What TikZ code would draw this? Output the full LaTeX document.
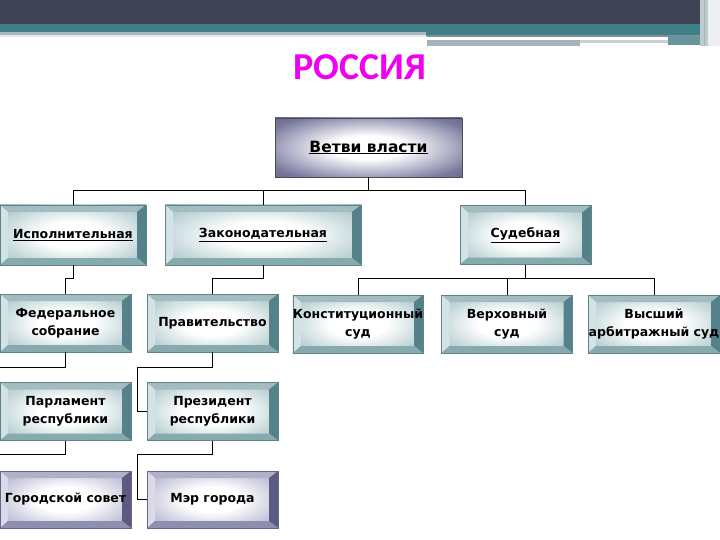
\documentclass[tikz,border=0pt]{standalone}
\usepackage{fontspec}
\setmainfont{DejaVu Sans}
\newfontfamily\titlefont{Carlito}
\usetikzlibrary{calc}
\definecolor{barDark}{HTML}{3F4455}
\definecolor{barTeal}{HTML}{3F8088}
\definecolor{barLight}{HTML}{A7B9BF}
\definecolor{barGray}{HTML}{A3B4B8}
\definecolor{ttlMag}{HTML}{F000F0}
% teal bevel
\definecolor{tBord}{HTML}{5F8589}
\definecolor{tTop}{HTML}{A3BCBF}
\definecolor{tLeft}{HTML}{D3E3E5}
\definecolor{tRight}{HTML}{55828A}
\definecolor{tBot}{HTML}{86AAAE}
\definecolor{tFace}{HTML}{8FB4B8}
% purple bevel
\definecolor{pBord}{HTML}{66668A}
\definecolor{pTop}{HTML}{B0B0C8}
\definecolor{pLeft}{HTML}{DADAE8}
\definecolor{pRight}{HTML}{5B5B82}
\definecolor{pBot}{HTML}{8E8EAE}
\definecolor{pFace}{HTML}{9898BE}
\definecolor{vFace}{HTML}{7A7AA0}
\definecolor{vDeep}{HTML}{5C5C82}
\pgfdeclareradialshading{tealrad}{\pgfpoint{0bp}{0bp}}{%
  color(0bp)=(white); color(11bp)=(white); color(38bp)=(tFace); color(50bp)=(tFace)}
\pgfdeclareradialshading{purprad}{\pgfpoint{0bp}{0bp}}{%
  color(0bp)=(white); color(11bp)=(white); color(38bp)=(pFace); color(50bp)=(pFace)}
\pgfdeclareradialshading{rootrad}{\pgfpoint{0bp}{0bp}}{%
  color(0bp)=(white); color(10bp)=(white); color(30bp)=(vFace); color(40bp)=(vDeep); color(50bp)=(vDeep)}
\newcommand{\bevfacets}[4]{%
  \fill[#1] (path picture bounding box.north west) -- (path picture bounding box.north east)
     -- ([xshift=-9pt,yshift=-7pt]path picture bounding box.north east)
     -- ([xshift=8pt,yshift=-7pt]path picture bounding box.north west) -- cycle;
  \fill[#2] (path picture bounding box.north west) -- (path picture bounding box.south west)
     -- ([xshift=8pt,yshift=7pt]path picture bounding box.south west)
     -- ([xshift=8pt,yshift=-7pt]path picture bounding box.north west) -- cycle;
  \fill[#3] (path picture bounding box.north east) -- (path picture bounding box.south east)
     -- ([xshift=-9pt,yshift=7pt]path picture bounding box.south east)
     -- ([xshift=-9pt,yshift=-7pt]path picture bounding box.north east) -- cycle;
  \fill[#4] (path picture bounding box.south west) -- (path picture bounding box.south east)
     -- ([xshift=-9pt,yshift=7pt]path picture bounding box.south east)
     -- ([xshift=8pt,yshift=7pt]path picture bounding box.south west) -- cycle;
}
\tikzset{
  boxtext/.style={font=\fontsize{12.5}{18}\selectfont\bfseries, align=center, inner sep=0pt},
  tealbox/.style={boxtext, draw=tBord, line width=0.6pt, shading=tealrad,
    path picture={\bevfacets{tTop}{tLeft}{tRight}{tBot}}},
  purpbox/.style={boxtext, draw=pBord, line width=0.6pt, shading=purprad,
    path picture={\bevfacets{pTop}{pLeft}{pRight}{pBot}}},
  rootbox/.style={boxtext, font=\fontsize{15.5}{18}\selectfont\bfseries, draw=black!70, line width=0.6pt, shading=rootrad},
  link/.style={draw=black, line width=0.8pt},
}
\begin{document}
\begin{tikzpicture}[x=1pt,y=-1pt]
\clip (0,0) rectangle (720,540);
\fill[white] (0,0) rectangle (720,540);
% top decoration
\fill[barDark] (0,0) rectangle (720,24);
\fill[barTeal] (0,24) rectangle (720,33);
\fill[barTeal] (426,33) rectangle (720,36);
\fill[barLight] (0,32) rectangle (426,36);
\fill[white!70!barLight] (0,35) rectangle (426,37);
\fill[barGray!80!black] (427,35) rectangle (700,37);
\fill[white] (427,37.5) rectangle (668,40.5);
\fill[barGray] (427,40.5) rectangle (580,46);
\fill[barGray!60] (580,40.5) rectangle (668,43);
\fill[barTeal!60!barGray] (668,36) rectangle (705,45);
\fill[barGray!70] (700,0) rectangle (720,46);
\fill[white!80!barGray] (708,0) rectangle (720,46);
\draw[barGray, line width=1pt] (704,0) -- (704,46);
% title
\node[text=ttlMag, font=\titlefont\fontsize{38}{40}\selectfont\bfseries, inner sep=0pt] (title) at (360,67) {РОССИЯ};
% nodes
\node[rootbox, minimum width=187pt, minimum height=59pt] (vet) at (368.5,147.5) {\underline{Ветви власти}};
\node[tealbox, minimum width=146pt, minimum height=60pt] (isp) at (73,235) {\underline{Исполнительная}};
\node[tealbox, minimum width=196pt, minimum height=60pt] (zak) at (263,235) {\underline{Законодательная}};
\node[tealbox, minimum width=131pt, minimum height=59pt] (sud) at (525.5,235) {\underline{Судебная}};
\node[tealbox, minimum width=131pt, minimum height=58pt] (fed) at (65.5,323) {Федеральное\\собрание};
\node[tealbox, minimum width=131pt, minimum height=58pt] (prav) at (212.5,323) {Правительство};
\node[tealbox, minimum width=127pt, minimum height=58pt] (kon) at (358,324) {Конституционный\\суд};
\node[tealbox, minimum width=131pt, minimum height=58pt] (ver) at (507,324) {Верховный\\суд};
\node[tealbox, minimum width=132pt, minimum height=58pt] (vys) at (654,324) {Высший\\арбитражный суд};
\node[tealbox, minimum width=131pt, minimum height=58pt] (parl) at (65.5,411.5) {Парламент\\республики};
\node[tealbox, minimum width=131pt, minimum height=58pt] (prez) at (212.5,411.5) {Президент\\республики};
\node[purpbox, minimum width=131pt, minimum height=57pt] (gor) at (65.5,499.5) {Городской совет};
\node[purpbox, minimum width=131pt, minimum height=57pt] (mer) at (212.5,499.5) {Мэр города};
% connectors
\draw[link] (vet.south) -- ++(0,13) coordinate (j0) -| (isp.north);
\draw[link] (j0) -| (zak.north);
\draw[link] (j0) -| (sud.north);
\draw[link] (isp.south) -- ++(0,13) -| (fed.north);
\draw[link] (zak.south) -- ++(0,13) -| (prav.north);
\draw[link] (sud.south) -- ++(0,14) coordinate (j1) -| (kon.north);
\draw[link] (j1) -| (ver.north);
\draw[link] (j1) -| (vys.north);
\draw[link] (fed.south) -- ++(0,15) -| ([xshift=-8pt]parl.west) -- (parl.west);
\draw[link] (parl.south) -- ++(0,14) -| ([xshift=-8pt]gor.west) -- (gor.west);
\draw[link] (prav.south) -- ++(0,15) -| ([xshift=-9pt]prez.west) -- (prez.west);
\draw[link] (prez.south) -- ++(0,14) -| ([xshift=-9pt]mer.west) -- (mer.west);
\end{tikzpicture}
\end{document}
